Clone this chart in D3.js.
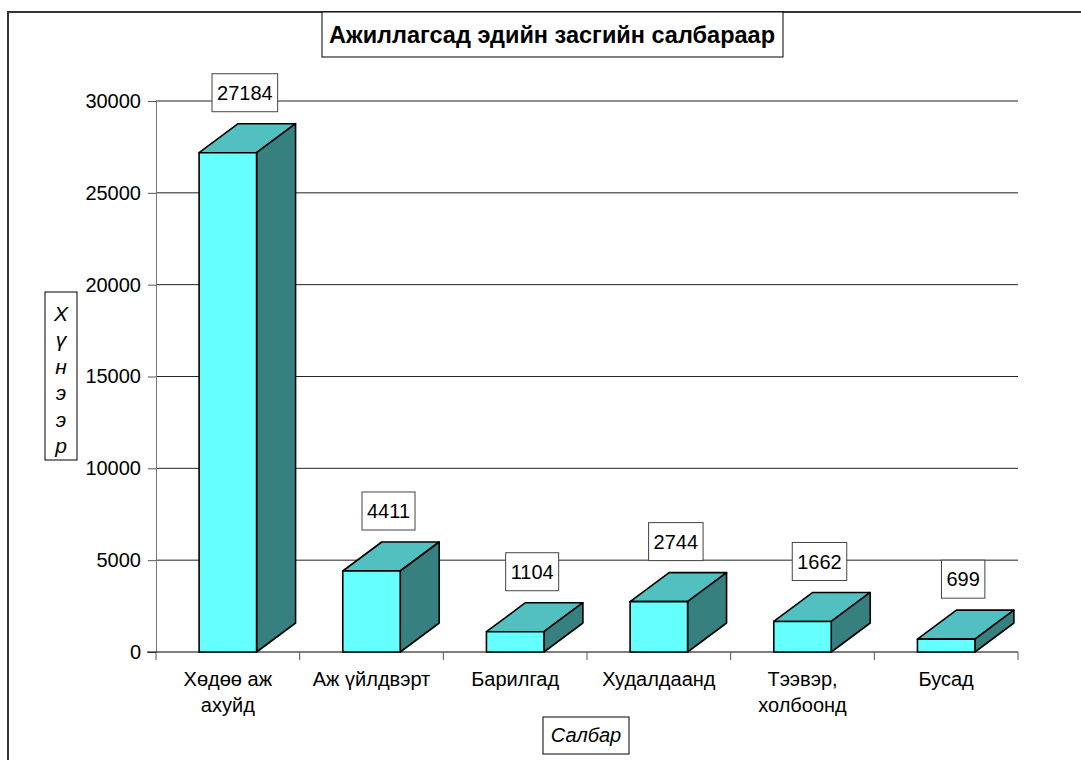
<!DOCTYPE html>
<html>
<head>
<meta charset="utf-8">
<script src="https://cdn.jsdelivr.net/npm/d3@7"></script>
<style>
  body { margin: 0; background: #fff; }
  svg { display: block; font-family: Arial, "Liberation Sans", sans-serif; }
</style>
</head>
<body>
<div id="chart"></div>
<script>
// data
const categories = ["Хөдөө аж ахуйд", "Аж үйлдвэрт", "Барилгад", "Худалдаанд", "Тээвэр, холбоонд", "Бусад"];
const categoryLines = [["Хөдөө аж", "ахуйд"], ["Аж үйлдвэрт"], ["Барилгад"], ["Худалдаанд"], ["Тээвэр,", "холбоонд"], ["Бусад"]];
const values = [27184, 4411, 1104, 2744, 1662, 699];
const yTicks = [0, 5000, 10000, 15000, 20000, 25000, 30000];
const title = "Ажиллагсад эдийн засгийн салбараар";
const yTitle = "Хүнээр";
const xTitle = "Салбар";

const width = 1081, height = 760;
const plot = { left: 156, right: 1018, top: 101, bottom: 652 };
const depth = { dx: 39, dy: -29 };
const colors = { front: "#66ffff", top: "#52c0c0", side: "#368080" };

const svg = d3.select("#chart").append("svg")
    .attr("width", width)
    .attr("height", height);

// outer chart border (runs off the right and bottom edge)
svg.append("rect")
    .attr("x", 8).attr("y", 12)
    .attr("width", 1200).attr("height", 900)
    .attr("fill", "none")
    .attr("stroke", "#333")
    .attr("stroke-width", 2);

const x = d3.scaleBand().domain(categories).range([plot.left, plot.right]);
const y = d3.scaleLinear().domain([0, 30000]).range([plot.bottom, plot.top]);

// gridlines
svg.append("g")
    .selectAll("line")
    .data(yTicks.filter(t => t > 0))
    .join("line")
    .attr("x1", plot.left).attr("x2", plot.right)
    .attr("y1", d => y(d)).attr("y2", d => y(d))
    .attr("stroke", "#222")
    .attr("stroke-width", 1);

// y axis
const yAxis = svg.append("g")
    .attr("transform", `translate(${plot.left},0)`)
    .call(d3.axisLeft(y).tickValues(yTicks).tickFormat(d3.format("d"))
        .tickSize(8).tickPadding(7).tickSizeOuter(0));
yAxis.select(".domain").attr("stroke", "#777");
yAxis.selectAll(".tick line").attr("stroke", "#555");
yAxis.selectAll(".tick text")
    .attr("font-size", 20)
    .attr("font-family", "Arial, 'Liberation Sans', sans-serif")
    .attr("fill", "#000");

// x axis
svg.append("line")
    .attr("x1", plot.left - 9).attr("x2", plot.right)
    .attr("y1", plot.bottom).attr("y2", plot.bottom)
    .attr("stroke", "#000").attr("stroke-width", 1.2);
svg.append("g")
    .selectAll("line")
    .data(categories.concat(["end"]))
    .join("line")
    .attr("x1", d => d === "end" ? plot.right : x(d))
    .attr("x2", d => d === "end" ? plot.right : x(d))
    .attr("y1", plot.bottom).attr("y2", plot.bottom + 8)
    .attr("stroke", "#555");

const catText = svg.append("g")
    .selectAll("text")
    .data(categories)
    .join("text")
    .attr("x", d => x(d) + x.bandwidth() / 2)
    .attr("y", plot.bottom + 34)
    .attr("text-anchor", "middle")
    .attr("font-size", 20)
    .attr("fill", "#000");
catText.selectAll("tspan")
    .data((d, i) => categoryLines[i])
    .join("tspan")
    .attr("x", function () { return d3.select(this.parentNode).attr("x"); })
    .attr("dy", (d, i) => i === 0 ? 0 : 26)
    .text(d => d);

// 3d bars
const frontW = x.bandwidth() * 0.4;
const bars = svg.append("g")
    .selectAll("g")
    .data(values.map((v, i) => ({ cat: categories[i], value: v })))
    .join("g");

function face(pts) {
    return "M" + pts.map(p => p.join(",")).join("L") + "Z";
}

bars.each(function (d) {
    const g = d3.select(this);
    const x0 = x(d.cat) + (x.bandwidth() - frontW) / 2;
    const x1 = x0 + frontW;
    const y0 = y(0);
    const y1 = y(d.value);
    g.append("path")
        .attr("d", face([[x0, y1], [x1, y1], [x1 + depth.dx, y1 + depth.dy], [x0 + depth.dx, y1 + depth.dy]]))
        .attr("fill", colors.top);
    g.append("path")
        .attr("d", face([[x1, y0], [x1, y1], [x1 + depth.dx, y1 + depth.dy], [x1 + depth.dx, y0 + depth.dy]]))
        .attr("fill", colors.side);
    g.append("rect")
        .attr("x", x0).attr("y", y1)
        .attr("width", frontW).attr("height", y0 - y1)
        .attr("fill", colors.front);
    g.selectAll("path, rect")
        .attr("stroke", "#000")
        .attr("stroke-width", 1.6)
        .attr("stroke-linejoin", "round");
});

// data labels
const labels = svg.append("g")
    .selectAll("g")
    .data(values.map((v, i) => ({ cat: categories[i], value: v })))
    .join("g")
    .attr("transform", d => `translate(${x(d.cat) + x.bandwidth() / 2 + 17},${y(d.value) + depth.dy - 31})`);
labels.append("text")
    .attr("text-anchor", "middle")
    .attr("dy", "0.36em")
    .attr("font-size", 20)
    .text(d => d.value);
labels.each(function () {
    const g = d3.select(this);
    const bb = g.select("text").node().getBBox();
    g.insert("rect", "text")
        .attr("x", bb.x - 5).attr("y", -19)
        .attr("width", bb.width + 10).attr("height", 38)
        .attr("fill", "#fff")
        .attr("stroke", "#444")
        .attr("stroke-width", 1);
});

// chart title
const tg = svg.append("g").attr("transform", "translate(552,35)");
tg.append("rect")
    .attr("x", -230).attr("y", -23)
    .attr("width", 461).attr("height", 45)
    .attr("fill", "#fff")
    .attr("stroke", "#000")
    .attr("stroke-width", 1);
tg.append("text")
    .attr("text-anchor", "middle")
    .attr("dy", "0.36em")
    .attr("font-size", 23.5)
    .attr("font-weight", "bold")
    .text(title);

// y axis title, letters stacked
const yt = svg.append("g").attr("transform", "translate(61,376)");
yt.append("rect")
    .attr("x", -16).attr("y", -84)
    .attr("width", 32).attr("height", 168)
    .attr("fill", "#fff")
    .attr("stroke", "#000");
yt.selectAll("text")
    .data(Array.from(yTitle))
    .join("text")
    .attr("x", 0)
    .attr("y", (d, i) => -63 + i * 26.5)
    .attr("dy", "0.36em")
    .attr("text-anchor", "middle")
    .attr("font-size", 21)
    .attr("font-style", "italic")
    .text(d => d);

// x axis title
const xt = svg.append("g").attr("transform", "translate(586,735)");
xt.append("rect")
    .attr("x", -43).attr("y", -18)
    .attr("width", 86).attr("height", 37)
    .attr("fill", "#fff")
    .attr("stroke", "#000");
xt.append("text")
    .attr("text-anchor", "middle")
    .attr("dy", "0.36em")
    .attr("font-size", 20)
    .attr("font-style", "italic")
    .text(xTitle);
</script>
</body>
</html>
